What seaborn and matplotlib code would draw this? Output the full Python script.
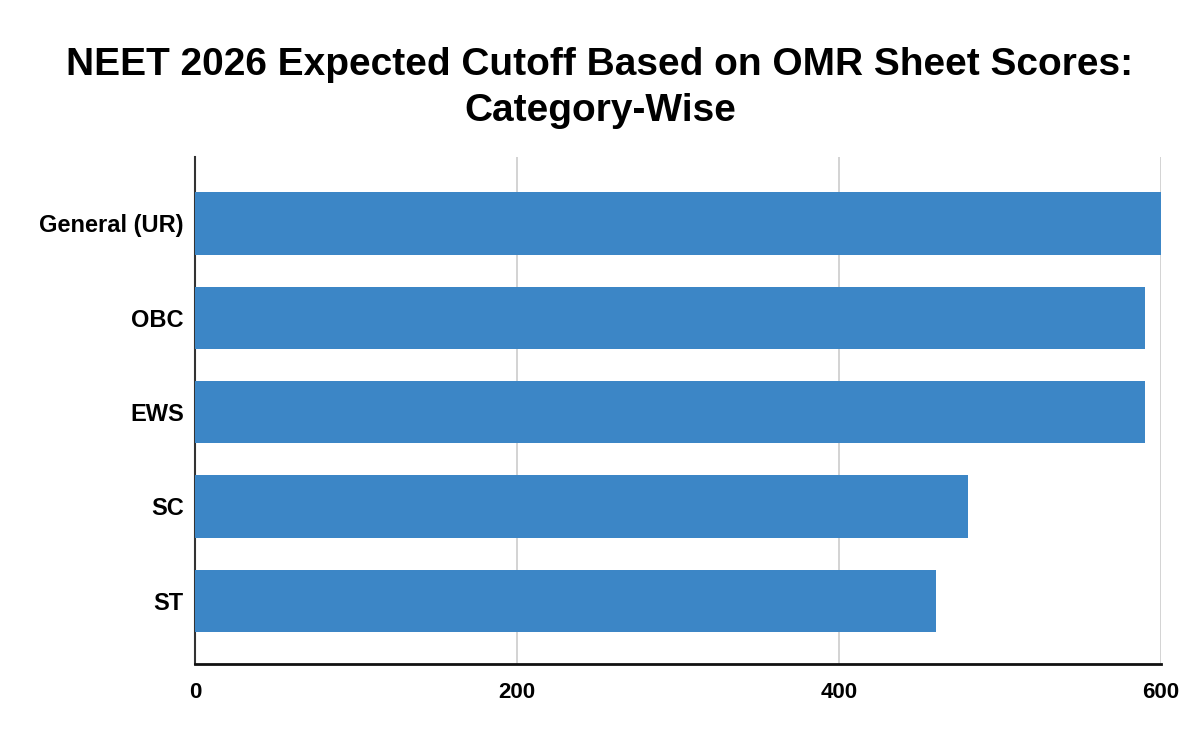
import matplotlib
matplotlib.use("Agg")
import matplotlib.pyplot as plt
import seaborn as sns
import pandas as pd

# values
categories = ["General (UR)", "OBC", "EWS", "SC", "ST"]
cutoffs = [600, 590, 590, 480, 460]
xticks = [0, 200, 400, 600]

df = pd.DataFrame({"category": categories, "cutoff": cutoffs})

sns.set_style("white")
plt.rcParams["font.family"] = ["Liberation Sans", "DejaVu Sans"]
plt.rcParams["text.color"] = "black"
plt.rcParams["xtick.color"] = "black"
plt.rcParams["ytick.color"] = "black"

fig = plt.figure(figsize=(12, 7.42), dpi=100)
ax = fig.add_axes([0.1625, 0.105, 0.805, 0.683])

sns.barplot(data=df, x="cutoff", y="category", color="#3c86c6",
            width=0.66, saturation=1, linewidth=0, ax=ax, zorder=3)

ax.set_xlim(0, 600)
ax.set_ylim(4.67, -0.7)
ax.set_xticks(xticks)
ax.set_xticklabels([str(t) for t in xticks], fontsize=16, fontweight="bold")
for lab in ax.get_yticklabels():
    lab.set_fontsize(17)
    lab.set_fontweight("bold")
ax.tick_params(axis="y", length=0, pad=8)
ax.tick_params(axis="x", length=0, pad=13)
ax.set_xlabel("")
ax.set_ylabel("")

ax.grid(axis="x", color="#cccccc", linewidth=1.2, zorder=0)
for s in ["top", "right"]:
    ax.spines[s].set_visible(False)
ax.spines["left"].set_color("#333333")
ax.spines["left"].set_linewidth(1.5)
ax.spines["bottom"].set_color("#111111")
ax.spines["bottom"].set_linewidth(2)

fig.suptitle("NEET 2026 Expected Cutoff Based on OMR Sheet Scores:\nCategory-Wise",
             fontsize=28, fontweight="bold", y=0.937, linespacing=1.38)

fig.savefig("out.png", dpi=100)
